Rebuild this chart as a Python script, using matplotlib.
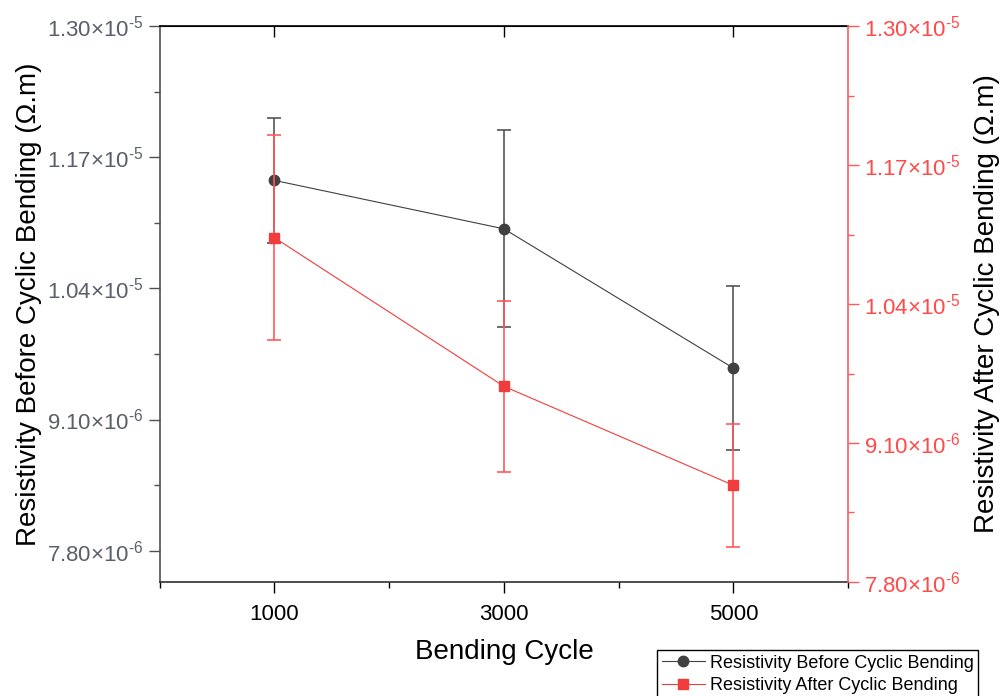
import matplotlib.pyplot as plt
import numpy as np
from matplotlib.ticker import FixedLocator, FuncFormatter

plt.rcParams['font.family'] = ['Liberation Sans', 'DejaVu Sans']
plt.rcParams['mathtext.fontset'] = 'custom'
plt.rcParams['mathtext.rm'] = 'Liberation Sans'
plt.rcParams['mathtext.it'] = 'Liberation Sans:italic'

# Bending test results (resistivity in ohm.m)
cycles = [1000, 3000, 5000]
before = [1.147e-5, 1.099e-5, 9.61e-6]
before_err = [0.62e-6, 0.975e-6, 0.81e-6]
after = [1.102e-5, 9.63e-6, 8.705e-6]
after_err = [0.96e-6, 0.80e-6, 0.575e-6]

y_ticks = [7.8e-6, 9.1e-6, 1.04e-5, 1.17e-5, 1.30e-5]
y_minor = [8.45e-6, 9.75e-6, 1.105e-5, 1.235e-5]

black = '#404040'
red = '#f03c3c'
red_axis = '#ff5a5a'


def sci_fmt(v, pos):
    e = int(np.floor(np.log10(v) + 1e-9))
    m = v / 10 ** e
    return r'$\mathregular{%.2f{\times}10^{\text{-}%d}}$' % (m, -e)


fig = plt.figure(figsize=(10.05, 6.96), dpi=100)
ax = fig.add_axes([0.159, 0.1638, 0.6848, 0.7988])
ax2 = ax.twinx()

l1 = ax.errorbar(cycles, before, yerr=before_err, fmt='-o', color=black,
                 ecolor='#555555', lw=0.8, ms=7.5, elinewidth=1.2,
                 capsize=5, capthick=1.2, label='Resistivity Before Cyclic Bending')
l2 = ax2.errorbar(cycles, after, yerr=after_err, fmt='-s', color=red,
                  ecolor=red_axis, lw=0.8, ms=7, elinewidth=1.2,
                  capsize=5, capthick=1.2, label='Resistivity After Cyclic Bending')

ax.set_xlim(0, 6000)
ax.set_ylim(7.49e-6, 1.30e-5)
ax2.set_ylim(7.8e-6, 1.30e-5)

# x axis: majors labelled, minors at the even thousands
ax.xaxis.set_major_locator(FixedLocator(cycles))
ax.xaxis.set_minor_locator(FixedLocator([0, 2000, 4000, 6000]))
ax.tick_params(axis='x', which='major', direction='out', length=8, width=1,
               labelsize=16, pad=8, colors='black')
ax.tick_params(axis='x', which='minor', direction='out', length=4, width=1)

# left axis
ax.yaxis.set_major_locator(FixedLocator(y_ticks))
ax.yaxis.set_minor_locator(FixedLocator(y_minor))
ax.yaxis.set_major_formatter(FuncFormatter(sci_fmt))
ax.tick_params(axis='y', which='major', direction='out', length=8, width=1,
               labelsize=16, colors='#505050', labelcolor='#5a5f6a')
ax.tick_params(axis='y', which='minor', direction='out', length=4, width=1,
               colors='#505050')

# right axis in red
ax2.yaxis.set_major_locator(FixedLocator(y_ticks))
ax2.yaxis.set_minor_locator(FixedLocator(y_minor))
ax2.yaxis.set_major_formatter(FuncFormatter(sci_fmt))
ax2.tick_params(axis='y', which='major', direction='out', length=8, width=1,
                labelsize=16, colors=red_axis, labelcolor='#ff4a4a')
ax2.tick_params(axis='y', which='minor', direction='out', length=4, width=1,
                colors=red_axis)

# top axis ticks point inward at the majors
top = ax.secondary_xaxis('top')
top.xaxis.set_major_locator(FixedLocator(cycles))
top.tick_params(axis='x', direction='in', length=8, width=1, labeltop=False)
top.spines['top'].set_color('black')

ax.spines['right'].set_visible(False)
ax.spines['left'].set_color('#505050')
ax.spines['bottom'].set_color('#303030')
ax2.spines['left'].set_visible(False)
ax2.spines['top'].set_visible(False)
ax2.spines['bottom'].set_visible(False)
ax2.spines['right'].set_color(red_axis)
for s in ax.spines.values():
    s.set_linewidth(1.2)
ax2.spines['right'].set_linewidth(1.2)

ax.set_xlabel('Bending Cycle', fontsize=20, labelpad=10)
ax.set_ylabel('Resistivity Before Cyclic Bending (\u03a9.m)', fontsize=20, labelpad=4)
ax2.set_ylabel('Resistivity After Cyclic Bending (\u03a9.m)', fontsize=20, labelpad=10)

# legend shows only line + marker, no error bars
fig.legend(handles=[l1[0], l2[0]], labels=[l1.get_label(), l2.get_label()],
           loc='upper left', bbox_to_anchor=(0.654, 0.066),
           fontsize=13, frameon=True, fancybox=False, edgecolor='black',
           framealpha=1, handlelength=2.4, handletextpad=0.25, labelspacing=0.3,
           borderpad=0.25, borderaxespad=0)

fig.savefig('out.png', dpi=100)
